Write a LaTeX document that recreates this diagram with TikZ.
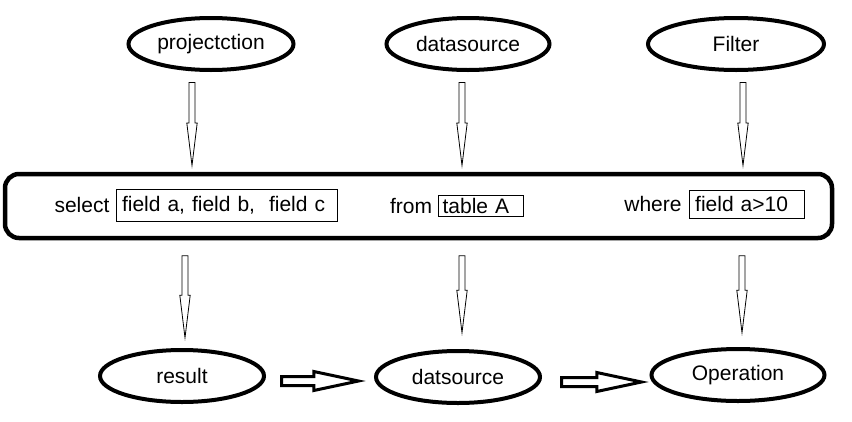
\documentclass[tikz,border=0pt]{standalone}
\usepackage{fontspec}
\setmainfont{Liberation Sans}
\usetikzlibrary{shapes.geometric,shapes.arrows,positioning}

\tikzset{
  bubble/.style={ellipse, draw, line width=4pt, minimum height=52pt,
    font=\fontsize{21}{25}\selectfont},
  query/.style={draw, rounded corners=14pt, line width=4.5pt,
    minimum width=827pt, minimum height=64pt},
  kw/.style={font=\fontsize{21}{25}\selectfont, inner sep=0pt},
  field/.style={draw, line width=0.8pt, font=\fontsize{21}{25}\selectfont,
    align=left, inner xsep=6pt, inner ysep=0pt},
  downarrow/.style={single arrow, draw, line width=0.8pt, inner sep=2.6pt,
    single arrow head extend=2.2pt, single arrow tip angle=14,
    minimum height=83pt, sloped, pos=0, anchor=tail},
  rightarrow/.style={single arrow, draw, line width=3pt, inner sep=3pt,
    single arrow head extend=5pt, single arrow tip angle=24,
    minimum height=77pt, sloped, pos=0, anchor=tail},
}

\begin{document}
\begin{tikzpicture}[x=1pt, y=-1pt]
  \useasboundingbox (0,0) rectangle (852,421);

  % top row
  \node [bubble, minimum width=165pt] (proj) at (211,44) {projectction};
  \node [bubble, minimum width=163pt] (src) at (468,44) {datasource};
  \node [bubble, minimum width=176pt] (filt) at (736,44) {Filter};

  % the query
  \node [query] (query) at (418.5,206) {};
  \node [kw] (sel) at (82,205) {select};
  \node [field, right=6pt of sel, text width=209pt, minimum height=32pt] (cols) {field a, field b,~ field c};
  \node [kw] (frm) at (411,206) {from};
  \node [field, right=6pt of frm, text width=77pt, minimum height=21pt, inner xsep=4pt] (tbl) {table A};
  \node [kw] (whr) at (653,204) {where};
  \node [field, right=7pt of whr, text width=103pt, minimum height=28pt] (cond) {field a>10};

  % bottom row
  \node [bubble, minimum width=164pt] (res) at (182,376) {result};
  \node [bubble, minimum width=164pt] (dsrc) at (458,377) {datsource};
  \node [bubble, minimum width=173pt] (op) at (738,375) {Operation};

  % arrows into the query
  \path ([shift={(-19,10)}]proj.south) -- node [downarrow] {} ([xshift=-19pt]proj.south |- query.north);
  \path ([shift={(-6,10)}]src.south) -- node [downarrow] {} ([xshift=-6pt]src.south |- query.north);
  \path ([shift={(7,10)}]filt.south) -- node [downarrow] {} ([xshift=7pt]filt.south |- query.north);

  % arrows out of the query
  \path ([shift={(3,15)}]res.north |- query.south) -- node [downarrow, minimum height=82pt] {} ([xshift=3pt]res.north);
  \path ([shift={(4,15)}]dsrc.north |- query.south) -- node [downarrow, minimum height=77pt] {} ([xshift=4pt]dsrc.north);
  \path ([shift={(4,15)}]op.north |- query.south) -- node [downarrow, minimum height=77pt] {} ([xshift=4pt]op.north);

  % result -> datsource -> Operation
  \path ([shift={(14,5)}]res.east) -- node [rightarrow] {} ([yshift=-5pt]res.east -| dsrc.west);
  \path ([shift={(18,5)}]dsrc.east) -- node [rightarrow, minimum height=80pt] {} ([yshift=-5pt]dsrc.east -| op.west);
\end{tikzpicture}
\end{document}
